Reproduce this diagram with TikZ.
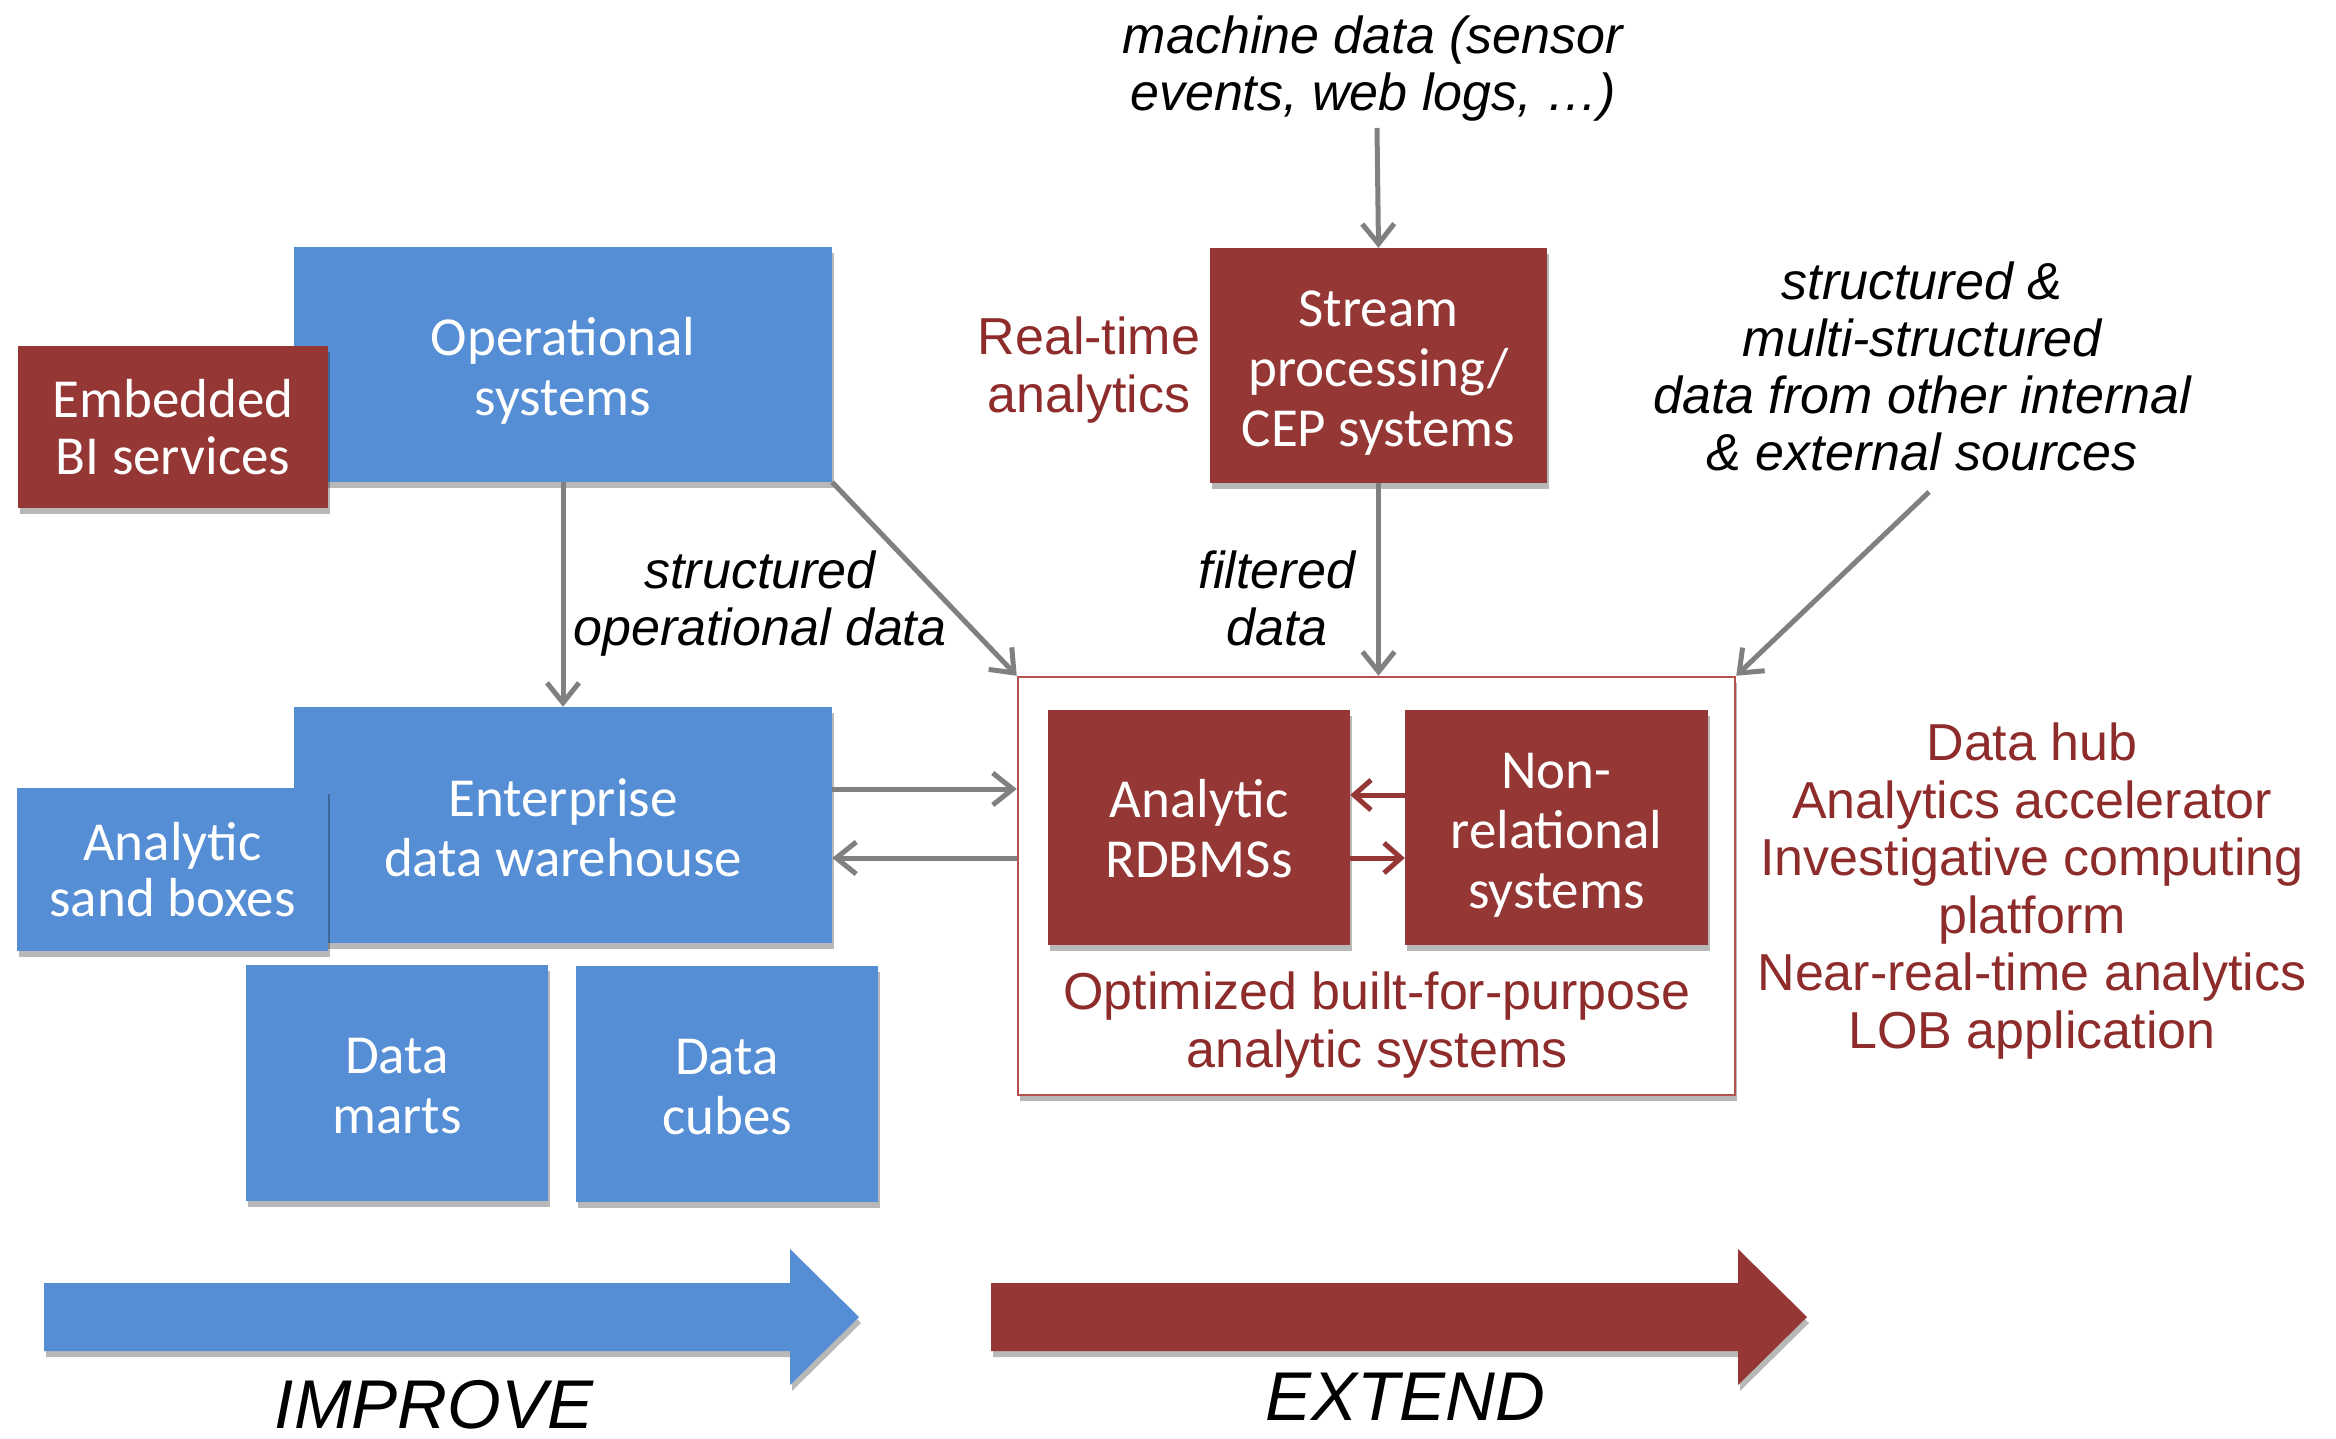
\documentclass[tikz,border=0pt]{standalone}
\usepackage{fontspec}
\setmainfont{Liberation Sans}
\newfontfamily\boxfont{Carlito}
\usetikzlibrary{arrows.meta,shadows}
\definecolor{boxblue}{HTML}{558ED5}
\definecolor{boxred}{HTML}{953735}
\definecolor{txtred}{HTML}{8E2B2B}
\definecolor{linegray}{HTML}{808080}
\definecolor{framered}{HTML}{B5514F}

\begin{document}
\begin{tikzpicture}[x=1pt,y=-1pt,
  softshadow/.style={drop shadow={shadow xshift=2pt,shadow yshift=-6pt,opacity=0.28,fill=black}},
  blk/.style={softshadow,rectangle,inner sep=0pt},
  bluebox/.style={blk,fill=boxblue},
  redbox/.style={blk,fill=boxred},
  boxtext/.style={inner sep=0pt,text=white,align=center,font=\boxfont\fontsize{55}{60}\selectfont},
  smallboxtext/.style={boxtext,font=\boxfont\fontsize{55}{56.5}\selectfont},
  lbl/.style={inner sep=0pt,align=center,font=\fontsize{52}{57}\selectfont\itshape},
  redlbl/.style={inner sep=0pt,align=center,text=txtred,font=\fontsize{52}{57.5}\selectfont},
  garrow/.style={draw=linegray,line width=5pt,-{Straight Barb[length=20pt,width=32pt]}},
  rarrow/.style={draw=boxred,line width=5pt,-{Straight Barb[length=17pt,width=30pt]}},
  biglbl/.style={inner sep=0pt,font=\fontsize{69}{75}\selectfont\itshape}]

\useasboundingbox (0,0) rectangle (2336,1439);

% left side: operational and warehouse blocks
\node[bluebox,minimum width=538pt,minimum height=235pt] (ops) at (563,364.5) {};
\node[boxtext] (opstext) at ([yshift=-6pt]ops.center) {Operational\\systems};
\node[redbox,minimum width=310pt,minimum height=162pt] (emb) at (173,427) {};
\node[smallboxtext] (embtext) at (emb.center) {Embedded\\BI services};
\node[bluebox,minimum width=538pt,minimum height=236pt] (edw) at (563,825) {};
\node[boxtext] (edwtext) at ([yshift=-3pt]edw.center) {Enterprise\\data warehouse};
\node[bluebox,minimum width=311pt,minimum height=163pt] (sand) at (172.5,869.5) {};
\node[smallboxtext] (sandtext) at (sand.center) {Analytic\\sand boxes};
\node[bluebox,minimum width=302pt,minimum height=236pt] (marts) at (397,1083) {};
\node[boxtext] (martstext) at ([yshift=-3pt]marts.center) {Data\\marts};
\node[bluebox,minimum width=302pt,minimum height=236pt] (cubes) at (727,1084) {};
\node[boxtext] (cubestext) at ([yshift=-3pt]cubes.center) {Data\\cubes};

% streaming block
\node[redbox,minimum width=337pt,minimum height=235pt] (stream) at (1378.5,365.5) {};
\node[boxtext] (streamtext) at ([yshift=-7.5pt]stream.center) {Stream\\processing/\\CEP systems};

% built-for-purpose container and its members
\node[softshadow,draw=framered,fill=white,line width=2.5pt,minimum width=717pt,minimum height=418pt] (cont) at (1376.5,886) {};
\node[redbox,minimum width=302pt,minimum height=235pt] (rdbms) at (1199,827.5) {};
\node[boxtext] (rdbmstext) at ([yshift=-1.5pt]rdbms.center) {Analytic\\RDBMSs};
\node[redbox,minimum width=303pt,minimum height=235pt] (nonrel) at (1556.5,827.5) {};
\node[boxtext] (nonreltext) at ([yshift=-7.5pt]nonrel.center) {Non-\\relational\\systems};
\node[redlbl] (opt) at (1377,1025) {Optimized built-for-purpose\\analytic systems};

% labels
\node[lbl] (machine) at (1373,69) {machine data (sensor\\events, web logs, \dots)};
\node[lbl] (structop) at (760,604) {structured\\operational data};
\node[lbl] (filtered) at (1277,598) {filtered\\data};
\node[lbl] (sources) at (1922,366) {structured \&\\multi-structured\\data from other internal\\\& external sources};
\node[redlbl] (realtime) at (1089,370) {Real-time\\analytics};
\node[redlbl] (uses) at (2032,891) {Data hub\\Analytics accelerator\\Investigative computing\\platform\\Near-real-time analytics\\LOB application};

% connectors
\coordinate (mstart) at (1377,128);
\coordinate (sstart) at (1929,492);
\coordinate (upper) at (0,789);
\coordinate (lower) at (0,858);
\coordinate (rupper) at (0,795);
\draw[garrow] (ops.south) -- (edw.north);
\draw[garrow] (ops.south east) -- (cont.north west);
\draw[garrow] (mstart) -- (stream.north);
\draw[garrow] (stream.south) -- (cont.north -| stream.south);
\draw[garrow] (sstart) -- (cont.north east);
\draw[garrow] (edw.east |- upper) -- (cont.west |- upper);
\draw[garrow] (cont.west |- lower) -- (edw.east |- lower);
\draw[rarrow] (nonrel.west |- rupper) -- (rdbms.east |- rupper);
\draw[rarrow] (rdbms.east |- lower) -- (nonrel.west |- lower);

% bottom direction arrows
\fill[boxblue,softshadow] (44,1283) -- (790,1283) -- (790,1249) -- (859,1317) -- (790,1385) -- (790,1351) -- (44,1351) -- cycle;
\fill[boxred,softshadow] (991,1283) -- (1738,1283) -- (1738,1249) -- (1807,1317) -- (1738,1385) -- (1738,1351) -- (991,1351) -- cycle;
\node[biglbl] (improve) at (434,1405) {IMPROVE};
\node[biglbl] (extend) at (1405,1397) {EXTEND};
\end{tikzpicture}
\end{document}
